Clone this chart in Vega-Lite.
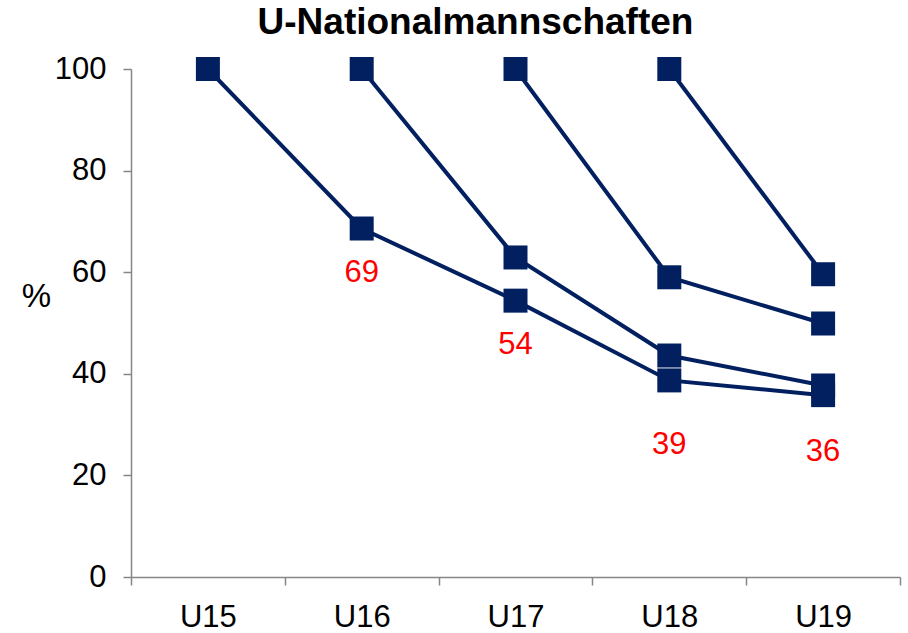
{
  "$schema": "https://vega.github.io/schema/vega-lite/v6.json",
  "width": 769,
  "height": 508,
  "autosize": {"type": "none"},
  "padding": {"left": 131, "top": 69, "right": 8, "bottom": 56},
  "background": "white",
  "config": {"font": "Liberation Sans", "view": {"stroke": null}},
  "title": {"text": "U-Nationalmannschaften", "fontSize": 37, "fontWeight": "bold", "font": "Liberation Sans", "color": "black", "anchor": "middle", "frame": "group", "dx": -40, "offset": 11},
  "data": {"values": [
    {"series": "A", "group": "U15", "value": 100},
    {"series": "A", "group": "U16", "value": 68.6},
    {"series": "A", "group": "U17", "value": 54.4},
    {"series": "A", "group": "U18", "value": 38.7},
    {"series": "A", "group": "U19", "value": 35.8},
    {"series": "B", "group": "U16", "value": 100},
    {"series": "B", "group": "U17", "value": 62.9},
    {"series": "B", "group": "U18", "value": 43.6},
    {"series": "B", "group": "U19", "value": 37.7},
    {"series": "C", "group": "U17", "value": 100},
    {"series": "C", "group": "U18", "value": 59.0},
    {"series": "C", "group": "U19", "value": 49.9},
    {"series": "D", "group": "U18", "value": 100},
    {"series": "D", "group": "U19", "value": 59.6}
  ]},
  "encoding": {
    "x": {"field": "group", "type": "nominal", "scale": {"type": "band", "paddingInner": 0, "paddingOuter": 0},
      "axis": {"title": null, "labelFontSize": 31, "labelColor": "black", "labelAngle": 0, "tickSize": 8, "tickBand": "extent", "domainColor": "#868686", "tickColor": "#868686", "domainWidth": 1.5, "tickWidth": 1.5, "labelPadding": 17}},
    "y": {"field": "value", "type": "quantitative", "scale": {"domain": [0, 100], "nice": false},
      "axis": {"title": "%", "titleAngle": 0, "titleFontSize": 33, "titleFontWeight": "normal", "titleColor": "black", "titleX": -95, "titleY": 227, "titleAlign": "center", "titleBaseline": "middle",
        "values": [0, 20, 40, 60, 80, 100], "labelFontSize": 31, "labelColor": "black", "tickSize": 8, "labelPadding": 17, "grid": false, "domainColor": "#868686", "tickColor": "#868686", "domainWidth": 1.5, "tickWidth": 1.5}}
  },
  "layer": [
    {"mark": {"type": "line", "color": "#022060", "strokeWidth": 4}, "encoding": {"detail": {"field": "series"}}},
    {"mark": {"type": "point", "shape": "square", "filled": true, "size": 576, "color": "#022060", "opacity": 1}, "encoding": {"detail": {"field": "series"}}},
    {"transform": [{"filter": "datum.series === 'A' && (datum.group === 'U16' || datum.group === 'U17')"}],
      "mark": {"type": "text", "color": "red", "fontSize": 31, "dy": 44, "baseline": "middle"},
      "encoding": {"text": {"field": "value", "type": "quantitative", "format": ".0f"}}},
    {"transform": [{"filter": "datum.series === 'A' && datum.group === 'U18'"}],
      "mark": {"type": "text", "color": "red", "fontSize": 31, "dy": 65, "baseline": "middle"},
      "encoding": {"text": {"field": "value", "type": "quantitative", "format": ".0f"}}},
    {"transform": [{"filter": "datum.series === 'A' && datum.group === 'U19'"}],
      "mark": {"type": "text", "color": "red", "fontSize": 31, "dy": 57, "baseline": "middle"},
      "encoding": {"text": {"field": "value", "type": "quantitative", "format": ".0f"}}}
  ]
}
